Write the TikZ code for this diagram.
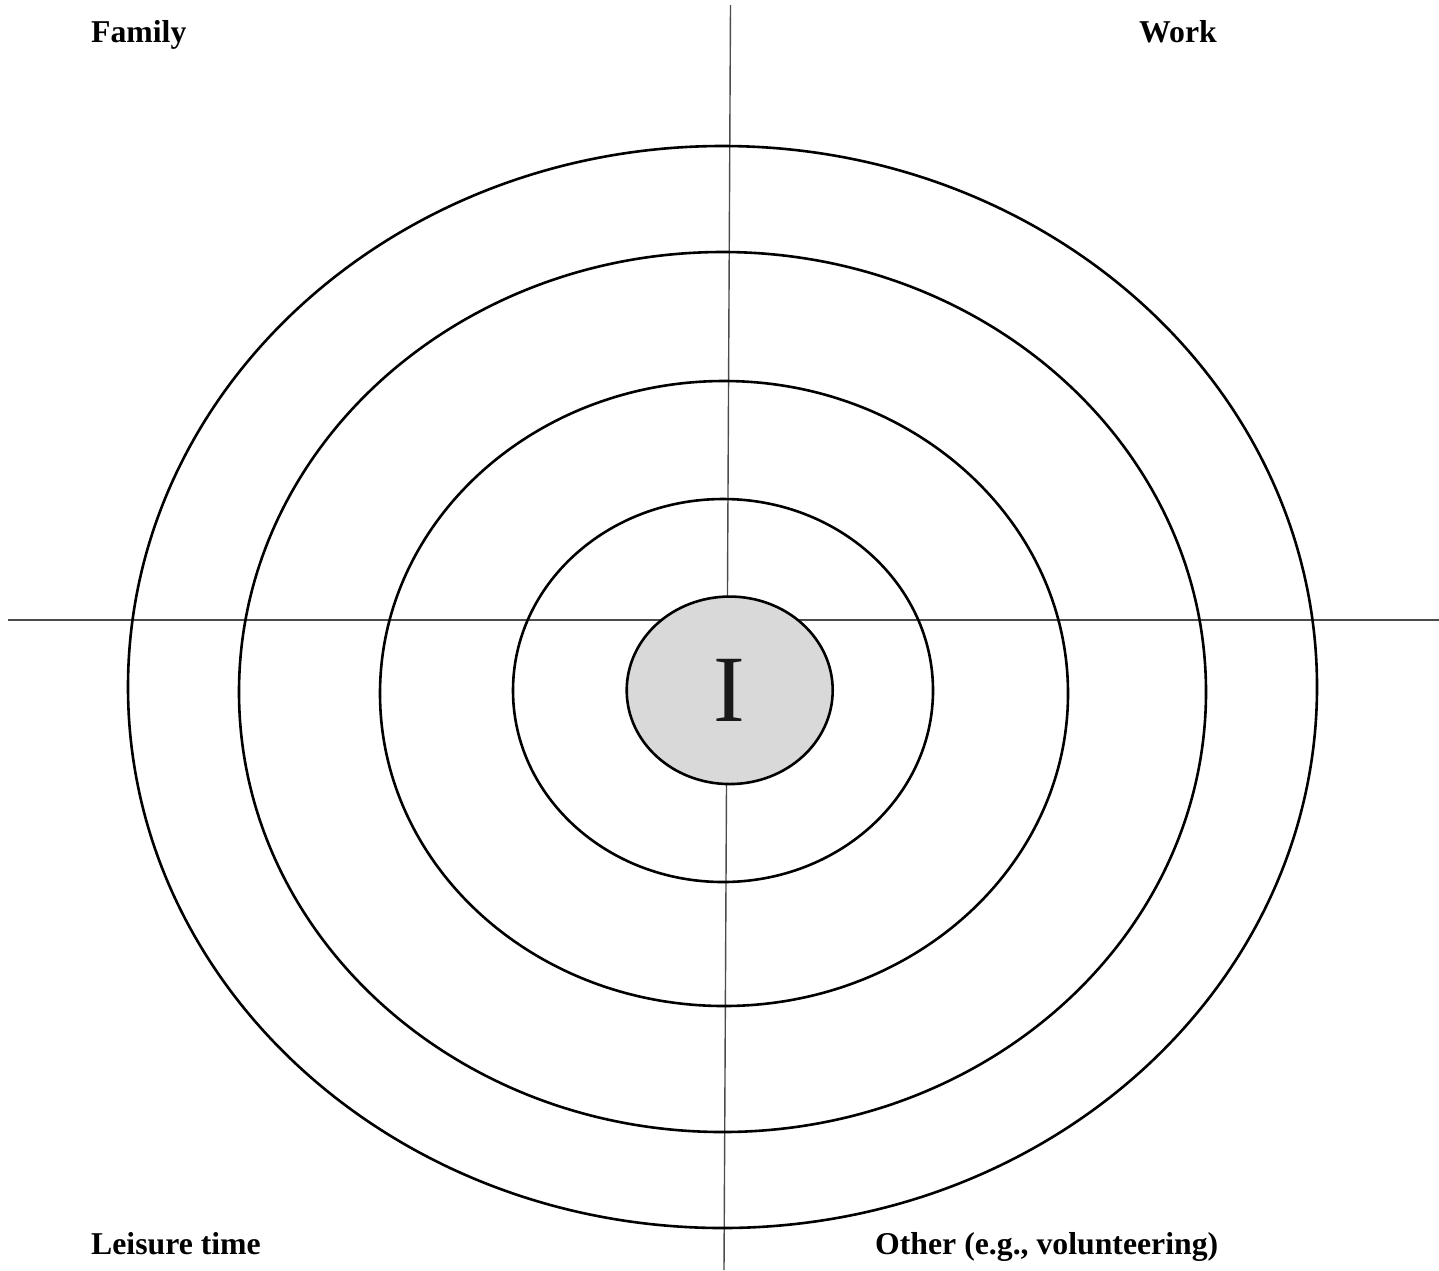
\documentclass[tikz,border=0pt]{standalone}
\usepackage{fontspec}
\setmainfont{Liberation Serif}
\usetikzlibrary{shapes.geometric}
\begin{document}
\begin{tikzpicture}[x=1pt,y=-1pt,
  ring/.style={draw=black,line width=2.6pt},
  axis/.style={draw=black!70,line width=1.4pt},
  lbl/.style={anchor=base west,inner sep=0pt,font=\fontsize{31.75}{36}\selectfont\bfseries},
  core/.style={ellipse,draw=black,line width=2.6pt,fill=black!15,minimum width=206pt,minimum height=187.5pt,inner sep=0pt,font=\fontsize{95}{100}\selectfont,text=black!90}]
\useasboundingbox (0,0) rectangle (1439,1270);
\coordinate (vt) at (730.5,5);
\coordinate (vb) at (724,1270);
\coordinate (hl) at (8,620);
\coordinate (hr) at (1439,620);
\draw[axis] (vt) -- (vb);
\draw[axis] (hl) -- (hr);
\draw[ring] (722.5,687) ellipse [x radius=594.5, y radius=541];
\draw[ring] (722.5,692) ellipse [x radius=483.5, y radius=440];
\draw[ring] (724,693.5) ellipse [x radius=344, y radius=312.5];
\draw[ring] (723,690.5) ellipse [x radius=210, y radius=191.5];
\node[core] (me) at (729.7,690.3) {I};
\node[lbl] (family) at (91,42.3) {Family};
\node[lbl] (work) at (1139,42.3) {Work};
\node[lbl] (leisure) at (91,1254.3) {Leisure time};
\node[lbl] (other) at (875,1254.3) {Other (e.g., volunteering)};
\end{tikzpicture}
\end{document}
